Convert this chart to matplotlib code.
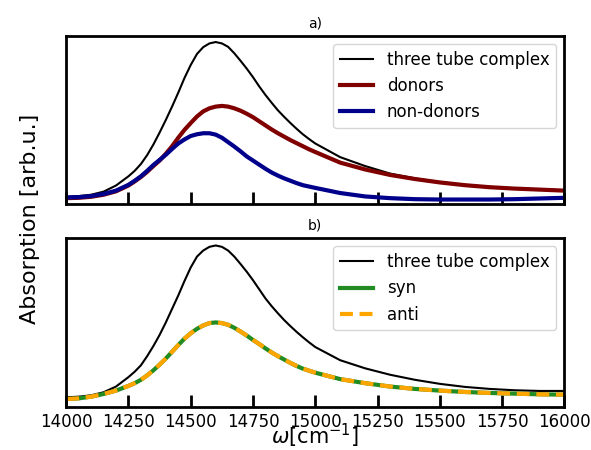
import matplotlib
matplotlib.use('Agg')
import matplotlib.pyplot as plt

# frequency grid (cm^-1)
omega = [14000, 14050, 14100, 14150, 14200,
         14250, 14275, 14300, 14325, 14350, 14375, 14400, 14425, 14450, 14475,
         14500, 14525, 14550, 14575, 14600, 14625, 14650, 14675, 14700, 14725,
         14750, 14775, 14800, 14825, 14850, 14875, 14900, 14925, 14950, 14975,
         15000, 15100, 15200, 15300, 15400, 15500, 15600, 15700, 15800, 15900,
         16000]

# panel a)  (arb. units)
complex_a = [22, 24, 28, 37, 55,
             82, 98, 118, 144, 175, 210, 247, 286, 327, 370,
             408, 440, 460, 471, 475, 471, 461, 442, 420, 397,
             372, 345, 320, 297, 275, 256, 238, 221, 205, 191,
             178, 138, 112, 90, 76, 65, 57, 51, 47, 44,
             41]
donors = [18, 19, 22, 28, 38,
          55, 67, 80, 95, 112, 128, 148, 170, 195, 218,
          238, 257, 272, 281, 286, 288, 286, 281, 274, 265,
          255, 243, 231, 219, 208, 198, 188, 179, 170, 161,
          153, 122, 102, 86, 74, 64, 56, 50, 46, 43,
          40]
non_donors = [20, 21, 24, 30, 40,
              57, 69, 82, 98, 115, 130, 145, 162, 178, 190,
              200, 205, 208, 208, 204, 195, 182, 169, 155, 140,
              128, 116, 104, 93, 84, 76, 69, 62, 56, 52,
              48, 33, 23, 18, 15, 14, 14, 14, 15, 17,
              19]

# panel b)  (arb. units)
complex_b = [27, 29, 33, 42, 59,
             87, 103, 122, 149, 179, 212, 249, 289, 329, 372,
             412, 444, 462, 473, 477, 473, 462, 444, 422, 399,
             374, 347, 320, 297, 276, 256, 238, 221, 205, 190,
             176, 137, 113, 94, 79, 67, 58, 52, 48, 46,
             46]
syn = [22, 24, 29, 37, 47,
       61, 69, 79, 92, 107, 124, 142, 162, 182, 201,
       217, 230, 240, 247, 249, 247, 242, 233, 222, 210,
       197, 185, 172, 160, 149, 139, 129, 120, 112, 106,
       100, 81, 69, 59, 52, 47, 43, 40, 38, 36,
       35]
anti = [22, 24, 29, 37, 47,
        61, 69, 79, 92, 107, 124, 142, 162, 182, 201,
        217, 230, 240, 247, 249, 247, 242, 233, 222, 210,
        197, 185, 172, 160, 149, 139, 129, 120, 112, 106,
        100, 81, 69, 59, 52, 47, 43, 40, 38, 36,
        35]

xticks = [14000, 14250, 14500, 14750, 15000, 15250, 15500, 15750, 16000]

fig, (ax1, ax2) = plt.subplots(2, 1, sharex=True, figsize=(5.91, 4.5), dpi=100)
fig.subplots_adjust(left=0.112, right=0.955, top=0.921, bottom=0.096, hspace=0.2)

ax1.plot(omega, complex_a, color='black', lw=1.5, label='three tube complex')
ax1.plot(omega, donors, color='#800000', lw=3, label='donors')
ax1.plot(omega, non_donors, color='#00008b', lw=3, label='non-donors')
ax1.set_title('a)', fontsize=10)
ax1.set_ylim(0, 494)

ax2.plot(omega, complex_b, color='black', lw=1.5, label='three tube complex')
ax2.plot(omega, syn, color='forestgreen', lw=3, label='syn')
ax2.plot(omega, anti, color='orange', lw=3, linestyle=(0, (3.1, 1.6)), label='anti')
ax2.set_title('b)', fontsize=10)
ax2.set_ylim(-1, 499)

for ax in (ax1, ax2):
    ax.set_xlim(14000, 16000)
    ax.set_yticks([])
    ax.set_xticks(xticks)
    ax.tick_params(axis='x', direction='in', length=9, width=2, labelsize=12, pad=4.5)
    for s in ax.spines.values():
        s.set_linewidth(2)
    ax.legend(loc='upper right', fontsize=12)
ax1.tick_params(axis='x', labelbottom=False)

ax2.set_xlabel(r'$\omega$[cm$^{-1}$]', fontsize=15)
ax2.xaxis.label.set_va('baseline')
ax2.xaxis.set_label_coords(0.5, -0.224)
fig.text(0.051, 0.513, 'Absorption [arb.u.]', rotation=90, va='center', ha='center', fontsize=16)

plt.savefig('out.png')
